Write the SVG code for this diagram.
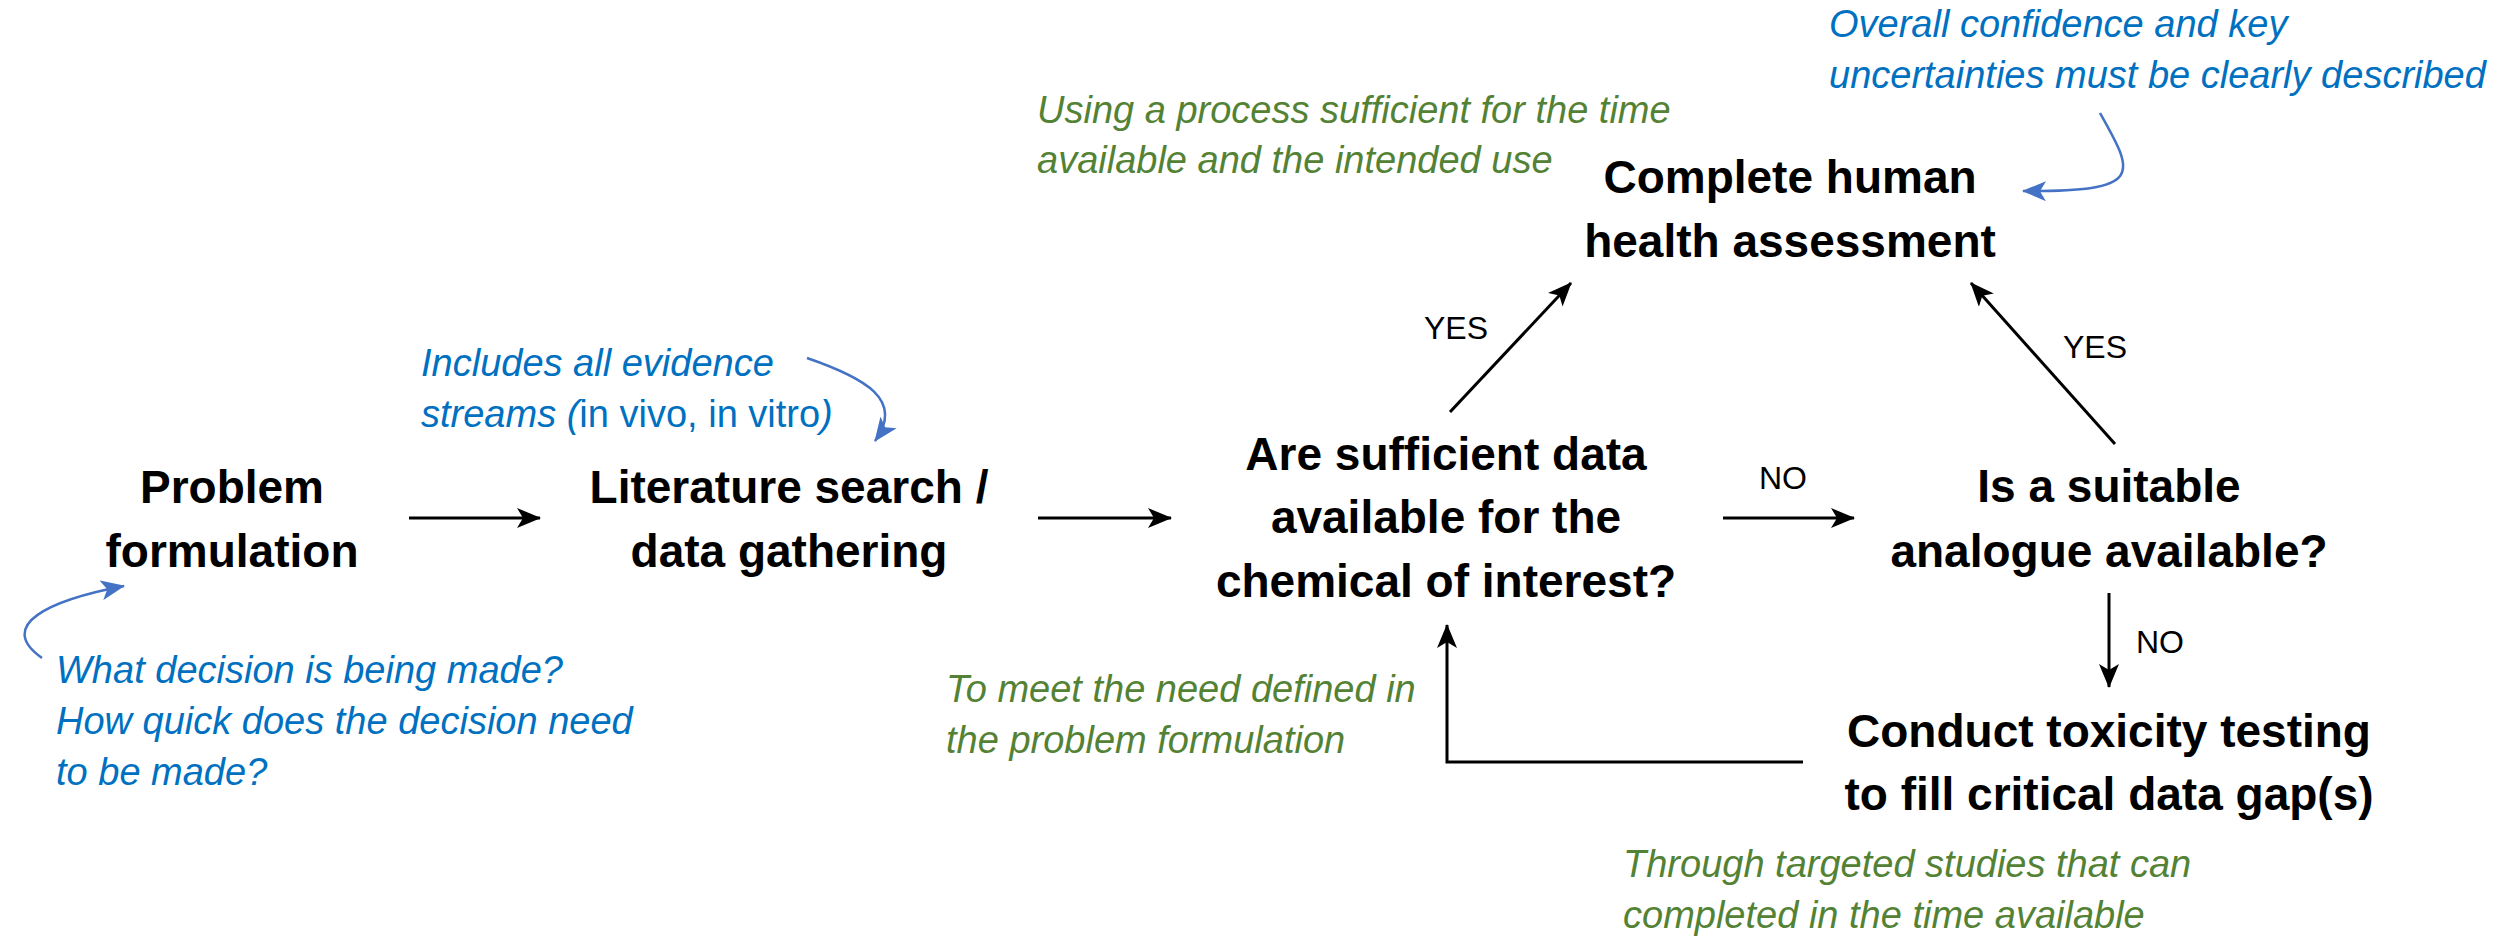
<svg xmlns="http://www.w3.org/2000/svg" width="2504" height="936" viewBox="0 0 2504 936">
<style>
.node{font-family:"Liberation Sans",Arial,sans-serif;font-weight:bold;font-size:46px;fill:#000;text-anchor:middle}
.lbl{font-family:"Liberation Sans",Arial,sans-serif;font-size:32px;fill:#000}
.blue{font-family:"Liberation Sans",Arial,sans-serif;font-style:italic;font-size:38px;fill:#0070C0}
.green{font-family:"Liberation Sans",Arial,sans-serif;font-style:italic;font-size:38px;fill:#548235}
.up{font-style:normal}
.con{stroke:#000;stroke-width:3;fill:none;marker-end:url(#ah)}
.note{stroke:#4472C4;stroke-width:2.5;fill:none;marker-end:url(#bh)}
</style>
<defs>
<marker id="ah" viewBox="0 0 24 20" refX="23" refY="10" markerWidth="24" markerHeight="20" orient="auto" markerUnits="userSpaceOnUse">
<path d="M0,0 L24,10 L0,20 L6,10 z" fill="#000"/>
</marker>
<marker id="bh" viewBox="0 0 24 20" refX="23" refY="10" markerWidth="24" markerHeight="20" orient="auto" markerUnits="userSpaceOnUse">
<path d="M0,0 L24,10 L0,20 L6,10 z" fill="#4472C4"/>
</marker>
</defs>
<rect width="2504" height="936" fill="#fff"/>
<g id="connectors">
<line class="con" x1="409" y1="518" x2="540" y2="518"/>
<line class="con" x1="1038" y1="518" x2="1171" y2="518"/>
<line class="con" x1="1723" y1="518" x2="1854" y2="518"/>
<line class="con" x1="2109" y1="593" x2="2109" y2="687"/>
<line class="con" x1="1450" y1="412" x2="1571" y2="283"/>
<line class="con" x1="2115" y1="444" x2="1971" y2="283"/>
<polyline class="con" points="1803,762 1447,762 1447,625"/>
<text class="lbl" x="1424" y="339">YES</text>
<text class="lbl" x="2063" y="358">YES</text>
<text class="lbl" x="1759" y="489">NO</text>
<text class="lbl" x="2136" y="653">NO</text>
</g>
<g id="annotation-arrows">
<path class="note" d="M807,358 C865,378 905,400 875,441"/>
<path class="note" d="M42,658 C-5,625 50,600 124,586"/>
<path class="note" d="M2100,113 C2135,175 2145,192 2023,191"/>
</g>
<g id="problem-formulation">
<text class="node" x="232" y="503">Problem</text>
<text class="node" x="232" y="567">formulation</text>
</g>
<g id="literature-search">
<text class="node" x="789" y="503">Literature search /</text>
<text class="node" x="789" y="567">data gathering</text>
</g>
<g id="sufficient-data">
<text class="node" x="1446" y="470">Are sufficient data</text>
<text class="node" x="1446" y="533">available for the</text>
<text class="node" x="1446" y="597">chemical of interest?</text>
</g>
<g id="suitable-analogue">
<text class="node" x="2109" y="502">Is a suitable</text>
<text class="node" x="2109" y="567">analogue available?</text>
</g>
<g id="toxicity-testing">
<text class="node" x="2109" y="747">Conduct toxicity testing</text>
<text class="node" x="2109" y="810">to fill critical data gap(s)</text>
</g>
<g id="complete-assessment">
<text class="node" x="1790" y="193">Complete human</text>
<text class="node" x="1790" y="257">health assessment</text>
</g>
<g id="notes">
<text class="blue" x="1829" y="37">Overall confidence and key</text>
<text class="blue" x="1829" y="88">uncertainties must be clearly described</text>
<text class="green" x="1037" y="123">Using a process sufficient for the time</text>
<text class="green" x="1037" y="173">available and the intended use</text>
<text class="blue" x="421" y="376">Includes all evidence</text>
<text class="blue" x="421" y="427">streams (<tspan class="up">in vivo, in vitro</tspan>)</text>
<text class="blue" x="56" y="683">What decision is being made?</text>
<text class="blue" x="56" y="734">How quick does the decision need</text>
<text class="blue" x="56" y="785">to be made?</text>
<text class="green" x="946" y="702">To meet the need defined in</text>
<text class="green" x="946" y="753">the problem formulation</text>
<text class="green" x="1623" y="877">Through targeted studies that can</text>
<text class="green" x="1623" y="928">completed in the time available</text>
</g>
</svg>
